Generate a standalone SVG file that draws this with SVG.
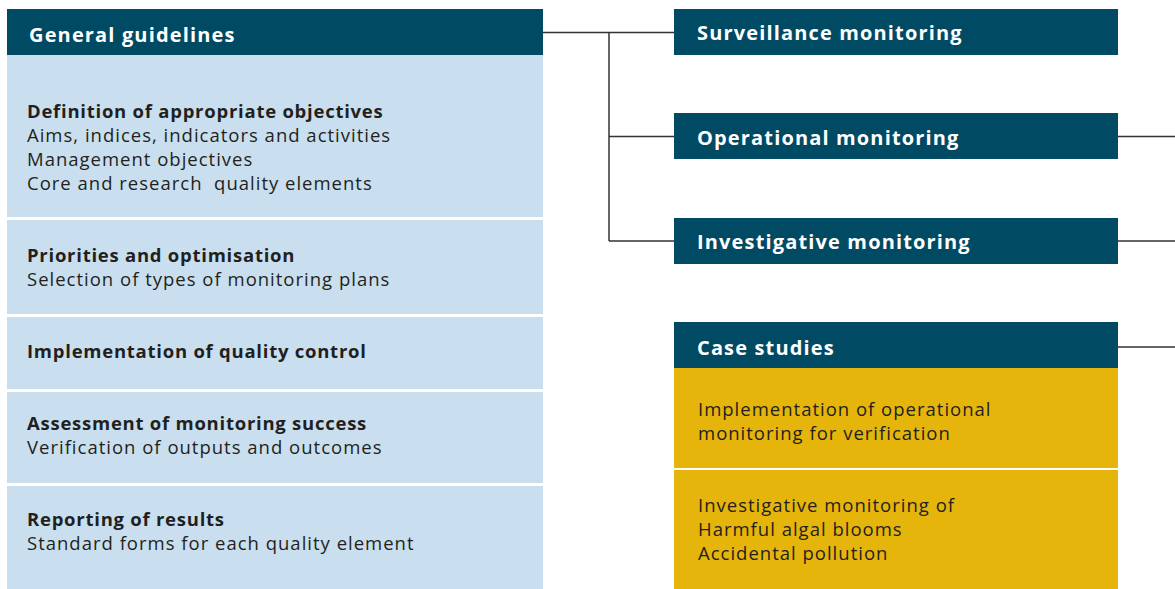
<svg xmlns="http://www.w3.org/2000/svg" width="1175" height="589" viewBox="0 0 1175 589">
<style>
.hdr{fill:#004a63}
.lb{fill:#c9dfef}
.yb{fill:#e6b50b}
.ht{font-family:"Open Sans","Liberation Sans",sans-serif;font-weight:700;font-size:20px;letter-spacing:1.15px;fill:#ffffff}
.bt{font-family:"Open Sans","Liberation Sans",sans-serif;font-weight:700;font-size:18.5px;letter-spacing:0.75px;fill:#231f20}
.rt{font-family:"Open Sans","Liberation Sans",sans-serif;font-weight:400;font-size:18.5px;letter-spacing:1px;fill:#231f20}
.ln{stroke:#333333;stroke-width:1.5;fill:none}
</style>
<rect width="1175" height="589" fill="#ffffff"/>
<g id="connectors">
<path class="ln" d="M543 32.5H674M609 32.5V241M609 136.5H674M609 241H674"/>
<path class="ln" d="M1118 136.5H1175M1118 241H1175M1118 347H1175"/>
</g>
<g id="general-guidelines">
<rect class="hdr" x="7" y="9" width="536" height="46"/>
<text class="ht" x="29" y="42">General guidelines</text>
</g>
<g id="objectives">
<rect class="lb" x="7" y="55" width="536" height="162"/>
<text class="bt" x="27" y="118">Definition of appropriate objectives</text>
<text class="rt" x="27" y="142">Aims, indices, indicators and activities</text>
<text class="rt" x="27" y="166">Management objectives</text>
<text class="rt" x="27" y="190" xml:space="preserve">Core and research  quality elements</text>
</g>
<g id="priorities">
<rect class="lb" x="7" y="220" width="536" height="94"/>
<text class="bt" x="27" y="262">Priorities and optimisation</text>
<text class="rt" x="27" y="286">Selection of types of monitoring plans</text>
</g>
<g id="quality-control">
<rect class="lb" x="7" y="317" width="536" height="72"/>
<text class="bt" x="27" y="358">Implementation of quality control</text>
</g>
<g id="assessment">
<rect class="lb" x="7" y="392" width="536" height="91"/>
<text class="bt" x="27" y="430">Assessment of monitoring success</text>
<text class="rt" x="27" y="454">Verification of outputs and outcomes</text>
</g>
<g id="reporting">
<rect class="lb" x="7" y="486" width="536" height="103"/>
<text class="bt" x="27" y="526">Reporting of results</text>
<text class="rt" x="27" y="550">Standard forms for each quality element</text>
</g>
<g id="surveillance">
<rect class="hdr" x="674" y="9" width="444" height="46"/>
<text class="ht" x="697" y="40">Surveillance monitoring</text>
</g>
<g id="operational">
<rect class="hdr" x="674" y="113" width="444" height="46"/>
<text class="ht" x="697" y="145">Operational monitoring</text>
</g>
<g id="investigative">
<rect class="hdr" x="674" y="218" width="444" height="46"/>
<text class="ht" x="697" y="249">Investigative monitoring</text>
</g>
<g id="case-studies">
<rect class="hdr" x="674" y="322" width="444" height="46"/>
<text class="ht" x="697" y="355">Case studies</text>
</g>
<g id="case-operational">
<rect class="yb" x="674" y="368" width="444" height="100"/>
<text class="rt" x="698" y="416">Implementation of operational</text>
<text class="rt" x="698" y="440">monitoring for verification</text>
</g>
<g id="case-investigative">
<rect class="yb" x="674" y="470" width="444" height="119"/>
<text class="rt" x="698" y="512">Investigative monitoring of</text>
<text class="rt" x="698" y="536">Harmful algal blooms</text>
<text class="rt" x="698" y="560">Accidental pollution</text>
</g>
</svg>
